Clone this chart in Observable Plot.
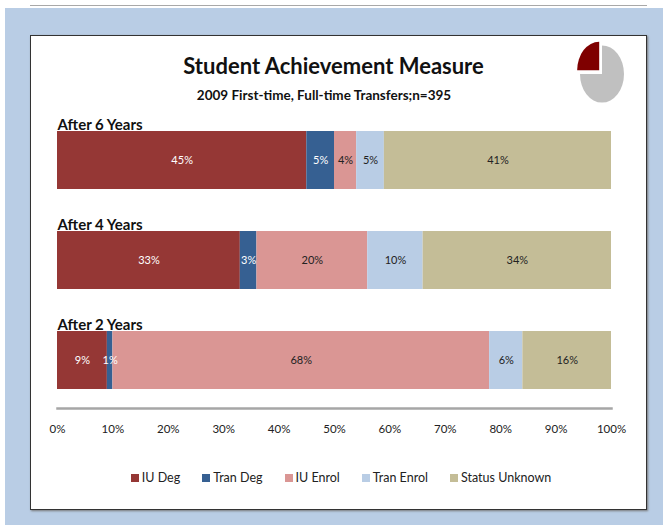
<!DOCTYPE html>
<html><head><meta charset="utf-8">
<script src="https://cdn.jsdelivr.net/npm/d3@7"></script>
<script src="https://cdn.jsdelivr.net/npm/@observablehq/plot@0.6"></script>
<style>
body{margin:0;background:#fff;font-family:Lato,"Liberation Sans",sans-serif;width:663px;height:525px;overflow:hidden;position:relative;}
#frame{position:absolute;left:5px;top:8px;width:658px;height:517px;background:#b9cde5;}
#topline{position:absolute;left:30px;top:5px;width:617px;height:1px;background:#a8a8a8;}
#panel{position:absolute;left:30px;top:35px;width:615px;height:473px;background:#fff;border:1.5px solid #333;box-shadow:1px 1px 2px #777;}
#title{position:absolute;left:30px;width:607px;top:52px;text-align:center;font-weight:bold;font-size:22px;color:#111;}
#subtitle{position:absolute;left:30px;width:588px;top:87px;text-align:center;font-weight:bold;font-size:13.5px;color:#111;}
#chart{position:absolute;left:30px;top:115px;}
#legend{position:absolute;left:30px;width:622px;top:470px;text-align:center;font-size:12.5px;color:#222;}
#legend span.item{margin:0 11px;white-space:nowrap;}
#legend span.sw{display:inline-block;width:8px;height:8px;margin-right:3px;vertical-align:0px;}
#pie{position:absolute;left:570px;top:38px;}
</style></head>
<body>
<div id="topline"></div>
<div id="frame"></div>
<div id="panel"></div>
<div id="title">Student Achievement Measure</div>
<div id="subtitle">2009 First-time, Full-time Transfers;n=395</div>
<div id="chart"></div>
<div id="legend"></div>
<svg id="pie" width="64" height="76"></svg>
<script>
const rows = ["After 6 Years", "After 4 Years", "After 2 Years"];
const categories = ["IU Deg", "Tran Deg", "IU Enrol", "Tran Enrol", "Status Unknown"];
const after6 = [45, 5, 4, 5, 41];
const after4 = [33, 3, 20, 10, 34];
const after2 = [9, 1, 68, 6, 16];
const colors = ["#953735", "#366092", "#da9694", "#b9cde5", "#c4bd97"];
const ticks = [0, 10, 20, 30, 40, 50, 60, 70, 80, 90, 100];
const pieValues = [25, 75];
const pieColors = ["#7f0000", "#c0c0c0"];

const series = [after6, after4, after2];
const data = [];
rows.forEach((r, i) => categories.forEach((c, j) => data.push({row: r, cat: c, value: series[i][j]})));
const lightText = new Set(["IU Deg", "Tran Deg"]);
const stackOpts = {x: "value", y: "row", z: "cat", order: null};

const chart = Plot.plot({
  width: 600, height: 328,
  marginLeft: 27, marginRight: 19, marginTop: 0, marginBottom: 35,
  style: {fontFamily: "Lato, 'Liberation Sans', sans-serif", fontSize: "11px", color: "#222", background: "transparent"},
  x: {domain: [0, 100], label: null},
  y: {domain: rows, range: [16, 274], paddingInner: 0.42, paddingOuter: 0, axis: null},
  color: {domain: categories, range: colors},
  marks: [
    Plot.barX(data, Plot.stackX({...stackOpts, fill: "cat"})),
    Plot.text(data, Plot.filter(d => lightText.has(d.cat), Plot.stackX({...stackOpts, text: d => d.value + "%", fill: "#fff", fontSize: 11}))),
    Plot.text(data, Plot.filter(d => !lightText.has(d.cat), Plot.stackX({...stackOpts, text: d => d.value + "%", fill: "#222", fontSize: 11}))),
    Plot.text(rows, {x: 0, y: d => d, text: d => d, textAnchor: "start", lineAnchor: "bottom", dy: -31, fontWeight: "bold", fontSize: 15, fill: "#111"}),
    Plot.frame({anchor: "bottom", stroke: "#a6a6a6", strokeWidth: 2.5}),
    Plot.axisX({ticks: ticks, tickFormat: d => d + "%", tickSize: 0, tickPadding: 16, fontSize: 11.5, label: null})
  ]
});
document.getElementById("chart").appendChild(chart);

const legend = document.getElementById("legend");
categories.forEach((c, i) => {
  const it = document.createElement("span");
  it.className = "item";
  it.innerHTML = `<span class="sw" style="background:${colors[i]}"></span>${c}`;
  legend.appendChild(it);
});

const pie = d3.pie().sort(null).startAngle(-Math.PI / 2).endAngle(3 * Math.PI / 2)(pieValues);
const arc = d3.arc().innerRadius(0).outerRadius(22);
const g = d3.select("#pie").append("g").attr("transform", "translate(32,36) scale(1,1.3)");
pie.forEach((p, i) => {
  const mid = (p.startAngle + p.endAngle) / 2;
  const off = i === 0 ? 4 : 0;
  g.append("path").attr("d", arc(p)).attr("fill", pieColors[i])
    .attr("transform", `translate(${off * Math.sin(mid)},${-off * Math.cos(mid)})`);
});
</script>
</body></html>
